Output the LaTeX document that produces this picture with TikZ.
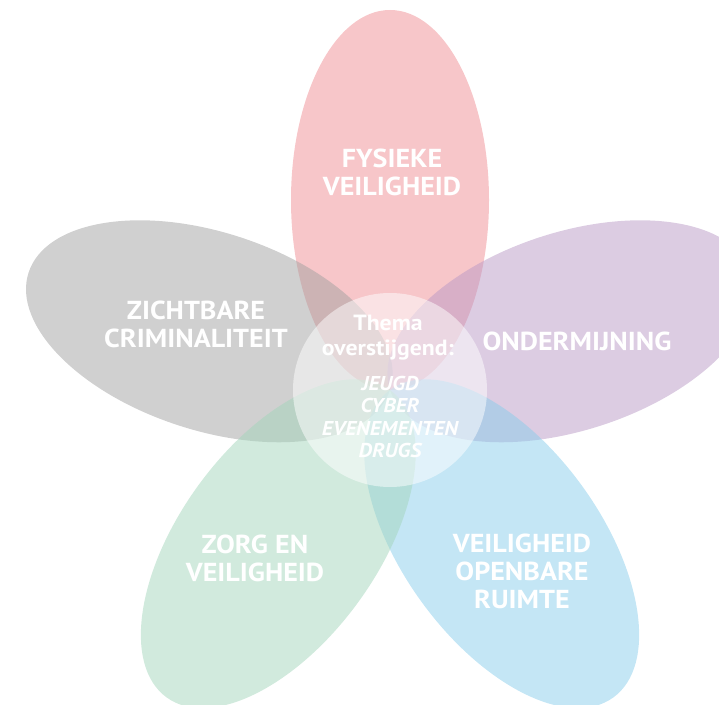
\documentclass[tikz,border=0pt]{standalone}
\usepackage{fontspec}
\setmainfont{PT Sans}[FakeStretch=1.08]
\definecolor{pinkpetal}{RGB}{239,141,147}
\definecolor{greypetal}{RGB}{161,161,161}
\definecolor{purplepetal}{RGB}{185,153,197}
\definecolor{greenpetal}{RGB}{163,213,187}
\definecolor{bluepetal}{RGB}{137,205,235}
\begin{document}
\begin{tikzpicture}[x=1pt, y=1pt,
	petal/.style={fill opacity=0.5},
	petaltext/.style={white, align=center, font=\fontsize{26}{28}\selectfont\bfseries},
	themetext/.style={white, align=center, font=\fontsize{20}{22.5}\selectfont\bfseries\itshape}]
	\useasboundingbox (0,0) rectangle (719,704);
	\clip (0,0) rectangle (719,704);
	% petals round the centre (390,314)
	\foreach \ang/\col in {90/pinkpetal, 162/greypetal, 18/purplepetal, 306/bluepetal, 234/greenpetal}
		\fill[petal, fill=\col, rotate around={\ang:(390,314)}] (580,314) ellipse (190 and 99);
	\fill[white, fill opacity=0.5] (390,314) circle (97);
	% labels
	\node[petaltext] (fysiek) at (392,532) {FYSIEKE\\VEILIGHEID};
	\node[petaltext] (zichtbaar) at (196,380) {ZICHTBARE\\CRIMINALITEIT};
	\node[petaltext] (ondermijning) at (577,363) {ONDERMIJNING};
	\node[petaltext] (zorg) at (255,146) {ZORG EN\\VEILIGHEID};
	\node[petaltext] (openbaar) at (522,133) {VEILIGHEID\\OPENBARE\\RUIMTE};
	\node[white, align=center, font=\fontsize{22}{25}\selectfont\bfseries] (thema) at (388,366) {Thema\\overstijgend:};
	\node[themetext] (themas) at (390,287) {JEUGD\\CYBER\\EVENEMENTEN\\DRUGS};
\end{tikzpicture}
\end{document}
